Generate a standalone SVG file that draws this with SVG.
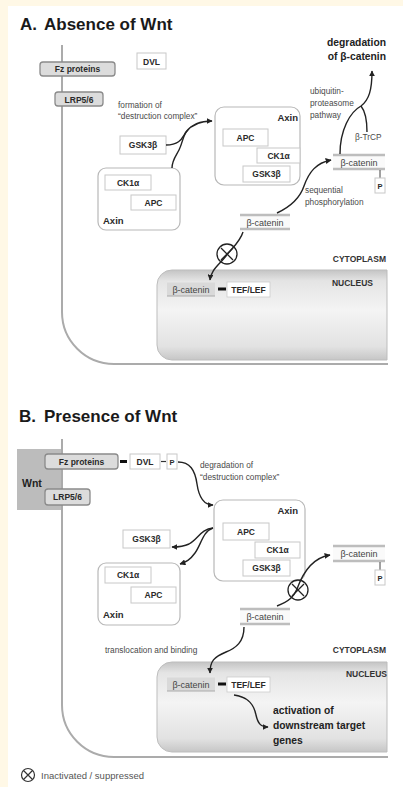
<svg xmlns="http://www.w3.org/2000/svg" width="403" height="787" viewBox="0 0 403 787">
<style>
text{font-family:"Liberation Sans",Arial,sans-serif;fill:#2a2a2a}
.t{font-size:17px;font-weight:bold;fill:#1a1a1a}
.b{font-size:8.5px;font-weight:bold;text-anchor:middle}
.s{font-size:8.3px;fill:#4a4a4a}
.bt{font-size:9px;fill:#444;text-anchor:middle}
.h{font-size:8.5px;font-weight:bold;text-anchor:end;fill:#333}
.big{font-size:10.3px;font-weight:bold;fill:#222}
.mem{fill:none;stroke:#ababab;stroke-width:2}
.pbox{fill:#dcdcdc;stroke:#8a8a8a;stroke-width:1.3}
.wbox{fill:#fff;stroke:#c8c8c8;stroke-width:1}
.cplx{fill:#fff;stroke:#b8b8b8;stroke-width:1.2}
.bc{fill:#fafafa;stroke:none}
.bar{stroke:#bdbdbd;stroke-width:2.5}
.arr{fill:none;stroke:#222;stroke-width:1.4;marker-end:url(#ah)}
.ln{fill:none;stroke:#222;stroke-width:1.4}
.eq{stroke:#111;stroke-width:3}
</style>
<defs>
<marker id="ah" viewBox="0 0 10 10" refX="9" refY="5" markerWidth="6" markerHeight="6" orient="auto" markerUnits="userSpaceOnUse">
<path d="M0,0 L10,5 L0,10 z" fill="#222"/>
</marker>
<linearGradient id="nuc" x1="0" y1="0" x2="0" y2="1">
<stop offset="0" stop-color="#c4c4c4"/>
<stop offset="0.12" stop-color="#e4e4e4"/>
<stop offset="0.45" stop-color="#f4f4f4"/>
<stop offset="0.85" stop-color="#e2e2e2"/>
<stop offset="1" stop-color="#c6c6c6"/>
</linearGradient>
<g id="xc">
<circle cx="0" cy="0" r="10" fill="none" stroke="#222" stroke-width="1.3"/>
<path d="M-6,-6 L6,6 M6,-6 L-6,6" stroke="#222" stroke-width="1.3"/>
</g>
</defs>
<rect x="0" y="0" width="403" height="787" fill="#fff8e6"/>
<rect x="8" y="6" width="395" height="781" fill="#fff"/>

<!-- ===== Panel A ===== -->
<g id="titleA"><text class="t" x="20" y="30">A.</text><text class="t" x="44" y="30">Absence of Wnt</text></g>
<path class="mem" d="M62,45 V312 A52,52 0 0 0 114,364 H388"/>
<g id="nucleusA"><path d="M172,270 H387 V360 H172 A15,15 0 0 1 157,345 V285 A15,15 0 0 1 172,270 z" fill="url(#nuc)" stroke="#bdbdbd" stroke-width="1"/>
<text class="h" x="386" y="262">CYTOPLASM</text><text class="h" x="373" y="286">NUCLEUS</text></g>
<g id="fzA"><rect class="pbox" x="40" y="62" width="75" height="14" rx="3"/><text class="b" x="77.5" y="72">Fz proteins</text></g>
<g id="dvlA"><rect class="wbox" x="137" y="53" width="29" height="16"/><text class="b" x="151.5" y="64.5">DVL</text></g>
<g id="lrpA"><rect class="pbox" x="55" y="92" width="48" height="14" rx="3"/><text class="b" x="79" y="102.5">LRP5/6</text></g>
<text class="s" x="118" y="108">formation of</text>
<text class="s" x="118" y="119">“destruction complex”</text>
<g id="gskA"><rect class="wbox" x="120" y="136" width="46" height="18"/><text class="b" x="143" y="148">GSK3β</text></g>
<g id="cplxLA"><rect class="cplx" x="98" y="168" width="82" height="62" rx="8"/>
<rect class="wbox" x="105" y="175" width="46" height="15"/><text class="b" x="128" y="185.5">CK1α</text>
<rect class="wbox" x="131" y="195" width="45" height="15"/><text class="b" x="153.5" y="205.5">APC</text>
<text class="b" x="103" y="224" style="font-size:9.5px;text-anchor:start">Axin</text></g>
<g id="cplxRA"><rect class="cplx" x="215" y="107" width="85" height="78" rx="9"/>
<text class="b" x="298" y="121" style="font-size:9.5px;text-anchor:end">Axin</text>
<rect class="wbox" x="223" y="129" width="45" height="17"/><text class="b" x="245.5" y="140.5">APC</text>
<rect class="wbox" x="257" y="148" width="43" height="15"/><text class="b" x="278.5" y="158.5">CK1α</text>
<rect class="wbox" x="243" y="166" width="47" height="16"/><text class="b" x="266.5" y="177">GSK3β</text></g>
<g id="bcatA"><rect class="bc" x="240" y="215" width="50" height="14"/><line class="bar" x1="240" y1="215" x2="290" y2="215"/><line class="bar" x1="240" y1="229" x2="290" y2="229"/><text class="bt" x="265" y="225.5">β-catenin</text></g>
<g id="bcatPA"><rect class="bc" x="333" y="155" width="52" height="14"/><line class="bar" x1="333" y1="155" x2="385" y2="155"/><line class="bar" x1="333" y1="169" x2="385" y2="169"/><text class="bt" x="359" y="165.5">β-catenin</text>
<line x1="380" y1="170" x2="380" y2="178" stroke="#444" stroke-width="1"/>
<rect class="wbox" x="375" y="178" width="10" height="15"/><text class="b" x="380" y="188.5" style="font-size:7.5px">P</text></g>
<text class="s" x="355" y="140">β-TrCP</text>
<text class="s" x="305" y="193">sequential</text>
<text class="s" x="305" y="205">phosphorylation</text>
<text class="s" x="310" y="94">ubiquitin-</text>
<text class="s" x="310" y="106">proteasome</text>
<text class="s" x="310" y="118">pathway</text>
<g id="degA"><text class="big" x="386" y="46" text-anchor="end">degradation</text><text class="big" x="386" y="60" text-anchor="end">of β-catenin</text></g>
<g id="bcatNA"><rect x="167" y="282" width="48" height="14" fill="#d9d9d9"/><line x1="167" y1="282" x2="215" y2="282" stroke="#e8e8e8" stroke-width="1"/><line x1="167" y1="296" x2="215" y2="296" stroke="#aaa" stroke-width="1"/><text class="bt" x="191" y="292.5">β-catenin</text>
<line class="eq" x1="218" y1="289" x2="226" y2="289"/>
<rect x="227" y="282" width="43" height="15" fill="#fff" stroke="#ccc" stroke-width="0.8"/><text class="b" x="248.5" y="292.5">TEF/LEF</text></g>
<g id="connA">
<path class="arr" d="M166,145 C180,145 182,138 186,132 C192,124 200,121 212,121"/>
<path class="ln" d="M172,168 C172,160 176,156 179,150 C183,142 183,134 188,130"/>
<path class="arr" d="M277,213 C292,206 300,198 304,186 C309,172 316,163 331,160"/>
<path class="arr" d="M340,154 C340,130 350,112 361,106 C369,100 372,90 372,71"/>
<path class="ln" d="M367,132 C367,118 365,111 361,106"/>
<path class="arr" d="M243,232 C240,242 232,248 226,256 C218,266 211,270 210,280"/>
<use href="#xc" x="227" y="254"/>
</g>

<!-- ===== Panel B ===== -->
<g id="titleB"><text class="t" x="19" y="422">B.</text><text class="t" x="44" y="422">Presence of Wnt</text></g>
<g id="wnt"><rect x="17" y="449" width="45" height="61" fill="#bcbcbc"/><text x="22" y="487" style="font-size:10.5px;font-weight:bold;fill:#222">Wnt</text></g>
<path class="mem" d="M62,439 V705 A52,52 0 0 0 114,757 H388"/>
<g id="nucleusB"><path d="M172,662 H387 V752 H172 A15,15 0 0 1 157,737 V677 A15,15 0 0 1 172,662 z" fill="url(#nuc)" stroke="#bdbdbd" stroke-width="1"/>
<text class="h" x="386" y="653">CYTOPLASM</text><text class="h" x="387" y="677">NUCLEUS</text></g>
<g id="fzB"><rect class="pbox" x="45" y="454" width="73" height="15" rx="3"/><text class="b" x="81.5" y="464.5">Fz proteins</text>
<line class="eq" x1="120" y1="461.5" x2="127" y2="461.5"/></g>
<g id="dvlB"><rect class="wbox" x="130" y="454" width="30" height="15"/><text class="b" x="145" y="464.5">DVL</text>
<line x1="161" y1="461.5" x2="166" y2="461.5" stroke="#333" stroke-width="1.2"/>
<rect class="wbox" x="167" y="454" width="10" height="15"/><text class="b" x="172" y="464.5" style="font-size:7.5px">P</text></g>
<g id="lrpB"><rect class="pbox" x="45" y="489" width="45" height="16" rx="3"/><text class="b" x="67.5" y="500">LRP5/6</text></g>
<text class="s" x="200" y="468">degradation of</text>
<text class="s" x="200" y="480">“destruction complex”</text>
<g id="cplxRB"><rect class="cplx" x="214" y="500" width="91" height="81" rx="9"/>
<text class="b" x="298" y="514" style="font-size:9.5px;text-anchor:end">Axin</text>
<rect class="wbox" x="223" y="523" width="46" height="17"/><text class="b" x="246" y="534.5">APC</text>
<rect class="wbox" x="255" y="542" width="45" height="16"/><text class="b" x="277.5" y="553">CK1α</text>
<rect class="wbox" x="243" y="560" width="47" height="16"/><text class="b" x="266.5" y="571">GSK3β</text></g>
<g id="gskB"><rect class="wbox" x="123" y="530" width="47" height="18"/><text class="b" x="146.5" y="542">GSK3β</text></g>
<g id="cplxLB"><rect class="cplx" x="98" y="563" width="82" height="62" rx="8"/>
<rect class="wbox" x="105" y="567" width="46" height="16"/><text class="b" x="128" y="578">CK1α</text>
<rect class="wbox" x="131" y="587" width="45" height="16"/><text class="b" x="153.5" y="598">APC</text>
<text class="b" x="103" y="618" style="font-size:9.5px;text-anchor:start">Axin</text></g>
<g id="bcatB"><rect class="bc" x="240" y="609" width="50" height="15"/><line class="bar" x1="240" y1="609" x2="290" y2="609"/><line class="bar" x1="240" y1="624" x2="290" y2="624"/><text class="bt" x="265" y="620">β-catenin</text></g>
<g id="bcatPB"><rect class="bc" x="333" y="546" width="52" height="15"/><line class="bar" x1="333" y1="546" x2="385" y2="546"/><line class="bar" x1="333" y1="561" x2="385" y2="561"/><text class="bt" x="359" y="557">β-catenin</text>
<line x1="380" y1="562" x2="380" y2="570" stroke="#444" stroke-width="1"/>
<rect class="wbox" x="375" y="570" width="10" height="15"/><text class="b" x="380" y="580.5" style="font-size:7.5px">P</text></g>
<text class="s" x="105" y="653">translocation and binding</text>
<g id="bcatNB"><rect x="167" y="677" width="48" height="14" fill="#d9d9d9"/><line x1="167" y1="677" x2="215" y2="677" stroke="#e8e8e8" stroke-width="1"/><line x1="167" y1="691" x2="215" y2="691" stroke="#aaa" stroke-width="1"/><text class="bt" x="191" y="687.5">β-catenin</text>
<line class="eq" x1="218" y1="684" x2="226" y2="684"/>
<rect x="227" y="677" width="43" height="15" fill="#fff" stroke="#ccc" stroke-width="0.8"/><text class="b" x="248.5" y="687.5">TEF/LEF</text></g>
<g id="genes"><text class="big" x="273" y="714">activation of</text><text class="big" x="273" y="729">downstream target</text><text class="big" x="273" y="744">genes</text></g>
<g id="connB">
<path class="arr" d="M178,462 C190,462 195,470 197,484 C199,498 205,505 213,505"/>
<path class="arr" d="M213,528 C201,529 198,539 189,544 C183,547 178,547 172,547"/>
<path class="arr" d="M213,528 C203,531 201,545 195,553 C190,560 186,562 180,564"/>
<path class="arr" d="M277,606 C290,601 294,596 297,589 C302,575 311,558 330,555"/>
<use href="#xc" x="298" y="590"/>
<path class="arr" d="M244,627 C244,642 236,648 226,652 C214,657 210,661 210,673"/>
<path class="arr" d="M234,695 C249,697 254,705 256,715 C258,724 261,727 268,727"/>
</g>

<g id="legend"><circle cx="28" cy="775" r="6.5" fill="none" stroke="#333" stroke-width="1.2"/><path d="M23.5,770.5 L32.5,779.5 M32.5,770.5 L23.5,779.5" stroke="#333" stroke-width="1.2"/>
<text x="41" y="778.5" style="font-size:9.5px;fill:#555">Inactivated / suppressed</text></g>
</svg>
